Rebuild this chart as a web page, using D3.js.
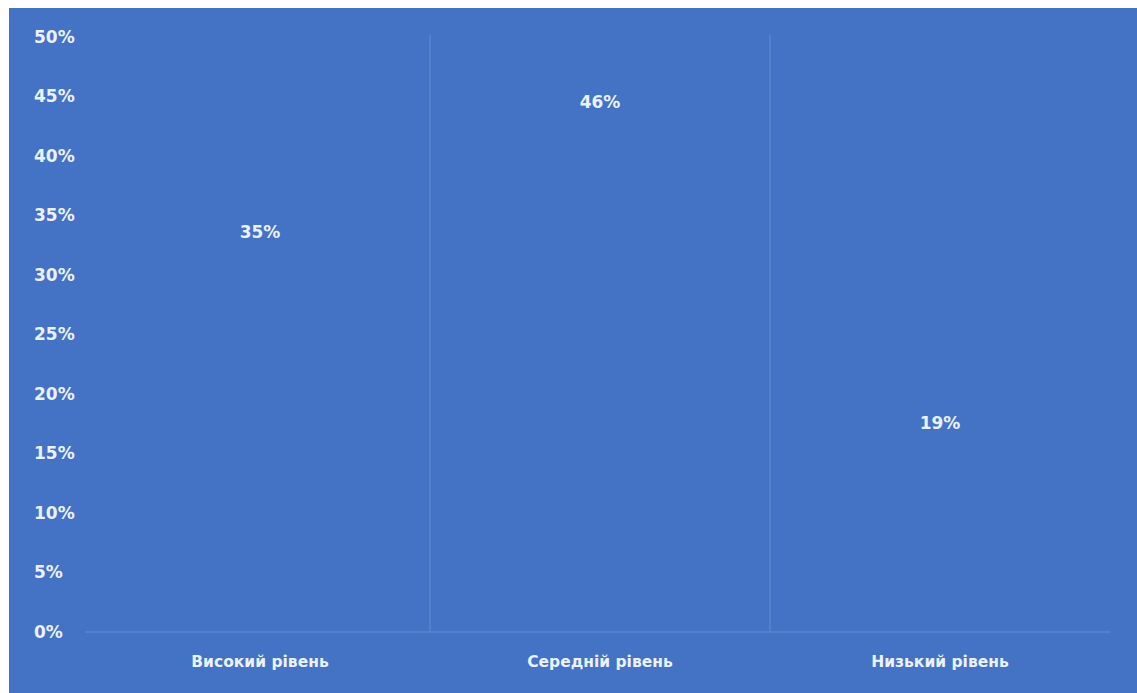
<!DOCTYPE html>
<html>
<head>
<meta charset="utf-8">
<script src="https://cdn.jsdelivr.net/npm/d3@7"></script>
<style>
  html, body { margin: 0; padding: 0; background: #ffffff; }
  svg text { font-family: "DejaVu Sans", "Open Sans", sans-serif; font-weight: 700; fill: #eaf1ff; }
</style>
</head>
<body>
<div id="chart"></div>
<script>
var categories = ['Високий рівень', 'Середній рівень', 'Низький рівень'];
var values = [35, 46, 19];
var yTicks = [0, 5, 10, 15, 20, 25, 30, 35, 40, 45, 50];

var W = 1137, H = 693;
var bg = '#4472c4';
var gridColor = '#5a85cf';

var svg = d3.select('#chart').append('svg:svg')
    .attr('width', W).attr('height', H);

// blue chart area
svg.append('svg:rect').attr('x', 9).attr('y', 8)
    .attr('width', W - 9).attr('height', H - 8)
    .attr('fill', bg);

// plot area edges (not "top": that name is taken by window.top)
var plotLeft = 90, plotRight = 1110, plotTop = 37, plotBottom = 632;

var x = d3.scaleBand().domain(categories).range([plotLeft, plotRight]).padding(0);
var y = d3.scaleLinear().domain([0, 50]).range([plotBottom, plotTop]);

// category separators
svg.selectAll('line.sep').data(categories.slice(1)).enter()
    .append('svg:line').attr('class', 'sep')
    .attr('x1', function(d) { return x(d); })
    .attr('x2', function(d) { return x(d); })
    .attr('y1', plotTop - 2).attr('y2', plotBottom)
    .attr('stroke', gridColor).attr('stroke-width', 1.5);

// bars (same colour as background)
svg.selectAll('rect.bar').data(values).enter()
    .append('svg:rect').attr('class', 'bar')
    .attr('x', function(d, i) { return x(categories[i]) + x.bandwidth() * 0.2; })
    .attr('width', x.bandwidth() * 0.6)
    .attr('y', function(d) { return y(d); })
    .attr('height', function(d) { return plotBottom - y(d); })
    .attr('fill', bg);

// baseline
svg.append('svg:line').attr('x1', plotLeft - 5).attr('x2', plotRight)
    .attr('y1', plotBottom).attr('y2', plotBottom)
    .attr('stroke', gridColor).attr('stroke-width', 1.5);

// y tick labels
svg.selectAll('text.ytick').data(yTicks).enter()
    .append('svg:text').attr('class', 'ytick')
    .attr('x', 34).attr('y', function(d) { return y(d); })
    .attr('dy', '0.35em')
    .style('font-size', '17px')
    .text(function(d) { return d + '%'; });

// category labels
svg.selectAll('text.cat').data(categories).enter()
    .append('svg:text').attr('class', 'cat')
    .attr('x', function(d) { return x(d) + x.bandwidth() / 2; })
    .attr('y', 662).attr('dy', '0.35em')
    .attr('text-anchor', 'middle')
    .style('font-size', '15.5px')
    .text(function(d) { return d; });

// data labels inside end
svg.selectAll('text.val').data(values).enter()
    .append('svg:text').attr('class', 'val')
    .attr('x', function(d, i) { return x(categories[i]) + x.bandwidth() / 2; })
    .attr('y', function(d) { return y(d) + 17; })
    .attr('dy', '0.35em')
    .attr('text-anchor', 'middle')
    .style('font-size', '17px')
    .text(function(d) { return d + '%'; });
</script>
</body>
</html>
